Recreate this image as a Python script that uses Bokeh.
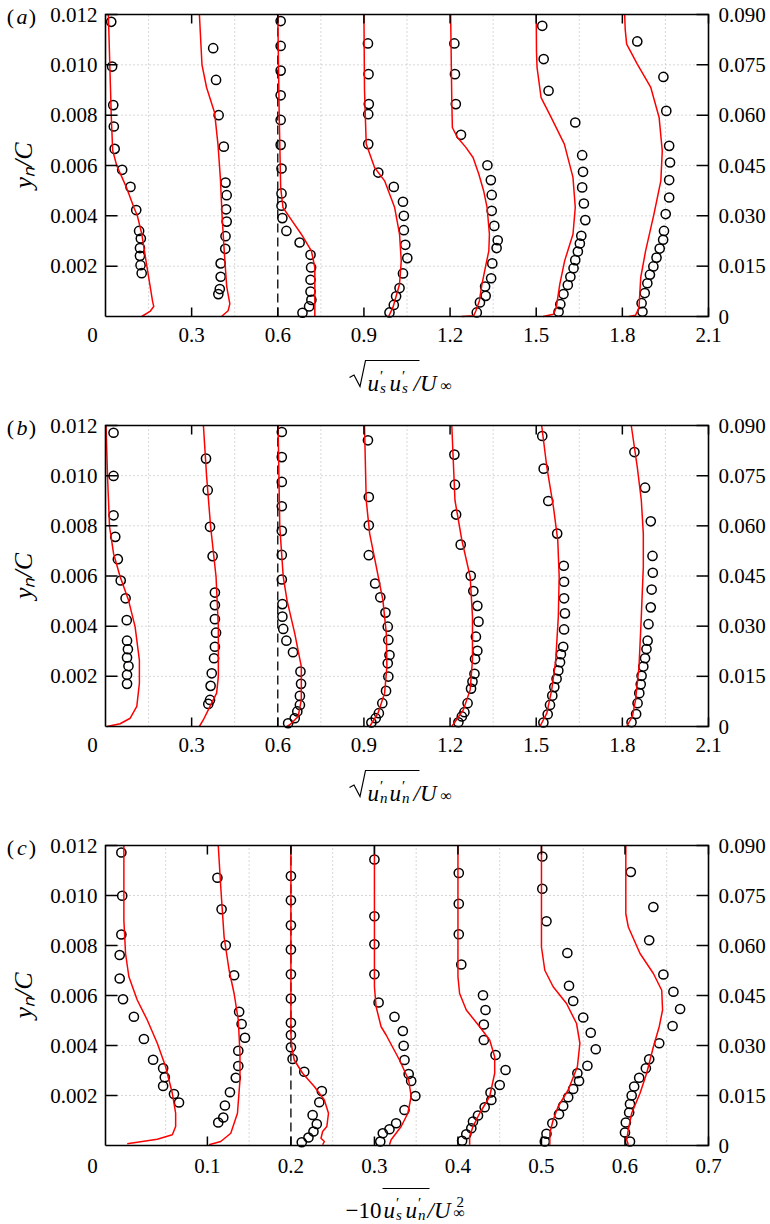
from math import pi
from bokeh.plotting import figure
from bokeh.models import Range1d
from bokeh.core.properties import value
from bokeh.layouts import column
from bokeh.embed import file_html
from bokeh.resources import INLINE

FONT = "Liberation Serif"

# ---------------- panel (a): sqrt(u's u's)/U_inf ----------------
a_offsets = [0.0, 0.3, 0.6, 0.9, 1.2, 1.5, 1.8]
a_exp_x = [
    [0.020, 0.023, 0.027, 0.029, 0.032, 0.058, 0.087, 0.107, 0.117, 0.123, 0.120, 0.120, 0.122, 0.126],
    [0.375, 0.385, 0.394, 0.412, 0.418, 0.422, 0.420, 0.422, 0.418, 0.417, 0.401, 0.401, 0.398, 0.393],
    [0.610, 0.610, 0.610, 0.610, 0.610, 0.610, 0.613, 0.613, 0.613, 0.616, 0.630, 0.676, 0.714, 0.716, 0.714, 0.714, 0.717, 0.709, 0.686],
    [0.914, 0.916, 0.917, 0.915, 0.915, 0.950, 1.004, 1.036, 1.039, 1.039, 1.044, 1.051, 1.036, 1.024, 1.012, 1.004, 0.989],
    [1.215, 1.217, 1.220, 1.238, 1.330, 1.342, 1.345, 1.345, 1.354, 1.366, 1.362, 1.347, 1.343, 1.322, 1.324, 1.304, 1.293],
    [1.521, 1.526, 1.543, 1.636, 1.660, 1.663, 1.660, 1.666, 1.671, 1.657, 1.652, 1.645, 1.636, 1.630, 1.619, 1.610, 1.595, 1.584, 1.578],
    [1.852, 1.943, 1.953, 1.963, 1.966, 1.963, 1.963, 1.951, 1.945, 1.942, 1.930, 1.919, 1.908, 1.896, 1.887, 1.878, 1.867, 1.870],
]
a_exp_y = [
    [0.01171, 0.00993, 0.00840, 0.00755, 0.00666, 0.00583, 0.00515, 0.00423, 0.00340, 0.00310, 0.00272, 0.00241, 0.00204, 0.00172],
    [0.01066, 0.00940, 0.00800, 0.00675, 0.00532, 0.00482, 0.00426, 0.00377, 0.00319, 0.00269, 0.00211, 0.00158, 0.00109, 0.00089],
    [0.01174, 0.01075, 0.00977, 0.00879, 0.00781, 0.00682, 0.00588, 0.00489, 0.00440, 0.00391, 0.00340, 0.00294, 0.00245, 0.00195, 0.00146, 0.00099, 0.00066, 0.00040, 0.00015],
    [0.01085, 0.00963, 0.00844, 0.00804, 0.00685, 0.00572, 0.00515, 0.00456, 0.00400, 0.00343, 0.00285, 0.00232, 0.00171, 0.00113, 0.00080, 0.00046, 0.00016],
    [0.01085, 0.00963, 0.00844, 0.00722, 0.00601, 0.00542, 0.00483, 0.00420, 0.00360, 0.00303, 0.00272, 0.00211, 0.00152, 0.00119, 0.00082, 0.00056, 0.00016],
    [0.01155, 0.01023, 0.00897, 0.00771, 0.00641, 0.00575, 0.00513, 0.00449, 0.00383, 0.00321, 0.00290, 0.00258, 0.00224, 0.00192, 0.00158, 0.00125, 0.00089, 0.00049, 0.00019],
    [0.01093, 0.00952, 0.00817, 0.00678, 0.00612, 0.00542, 0.00473, 0.00407, 0.00340, 0.00305, 0.00270, 0.00234, 0.00199, 0.00166, 0.00132, 0.00093, 0.00053, 0.00019],
]
a_mod_x = [
    [0.010, 0.015, 0.020, 0.025, 0.039, 0.074, 0.100, 0.111, 0.126, 0.144, 0.164, 0.168, 0.155, 0.126],
    [0.327, 0.336, 0.352, 0.380, 0.392, 0.400, 0.406, 0.414, 0.422, 0.433, 0.427, 0.404],
    [0.600, 0.605, 0.610, 0.618, 0.642, 0.682, 0.717, 0.729, 0.729, 0.729],
    [0.900, 0.902, 0.908, 0.937, 0.972, 1.007, 1.024, 1.030, 1.024, 1.001, 0.986],
    [1.202, 1.206, 1.208, 1.226, 1.255, 1.280, 1.300, 1.317, 1.329, 1.337, 1.335, 1.323, 1.311, 1.302, 1.290, 1.282, 1.241],
    [1.500, 1.501, 1.503, 1.517, 1.552, 1.598, 1.628, 1.636, 1.628, 1.599, 1.582, 1.570, 1.560, 1.524],
    [1.808, 1.810, 1.815, 1.852, 1.899, 1.928, 1.939, 1.934, 1.910, 1.881, 1.864, 1.858, 1.846, 1.823],
]
a_mod_y = [
    [0.012, 0.010, 0.008, 0.0066, 0.006, 0.0051, 0.0043, 0.004, 0.0033, 0.002, 0.0006, 0.0004, 0.0002, 0.0],
    [0.012, 0.010, 0.0091, 0.0081, 0.0068, 0.0055, 0.004, 0.0025, 0.0012, 0.0005, 0.00023, 0.0],
    [0.012, 0.008, 0.00513, 0.00433, 0.00393, 0.00327, 0.00261, 0.00195, 0.00062, 0.0],
    [0.012, 0.009, 0.00685, 0.00592, 0.00539, 0.00433, 0.00327, 0.00221, 0.00128, 0.00036, 0.0],
    [0.012, 0.00857, 0.00751, 0.00711, 0.00672, 0.00632, 0.00566, 0.00499, 0.00433, 0.00327, 0.00261, 0.00195, 0.00128, 0.00062, 0.00023, 0.00003, 0.0],
    [0.012, 0.0105, 0.00989, 0.0087, 0.00791, 0.00685, 0.00553, 0.00433, 0.00327, 0.00221, 0.00128, 0.00036, 0.00009, 0.0],
    [0.012, 0.0114, 0.01082, 0.01003, 0.0091, 0.00791, 0.00658, 0.00539, 0.00407, 0.00261, 0.00155, 0.00036, 0.00005, 0.0],
]

# ---------------- panel (b): sqrt(u'n u'n)/U_inf ----------------
b_offsets = [0.0, 0.3, 0.6, 0.9, 1.2, 1.5, 1.8]
b_exp_x = [
    [0.028, 0.028, 0.028, 0.034, 0.043, 0.053, 0.070, 0.074, 0.075, 0.078, 0.075, 0.080, 0.075, 0.075],
    [0.350, 0.356, 0.364, 0.373, 0.381, 0.381, 0.381, 0.385, 0.381, 0.378, 0.370, 0.366, 0.364, 0.358],
    [0.614, 0.614, 0.614, 0.614, 0.614, 0.614, 0.614, 0.616, 0.616, 0.619, 0.630, 0.653, 0.679, 0.681, 0.677, 0.677, 0.668, 0.659, 0.636],
    [0.914, 0.917, 0.917, 0.917, 0.939, 0.957, 0.975, 0.983, 0.985, 0.989, 0.983, 0.985, 0.977, 0.964, 0.952, 0.941, 0.926],
    [1.215, 1.217, 1.221, 1.237, 1.272, 1.281, 1.295, 1.299, 1.290, 1.295, 1.287, 1.285, 1.278, 1.273, 1.261, 1.250, 1.241, 1.229],
    [1.521, 1.526, 1.542, 1.573, 1.596, 1.597, 1.597, 1.600, 1.597, 1.594, 1.586, 1.583, 1.577, 1.571, 1.563, 1.556, 1.548, 1.540, 1.525],
    [1.842, 1.879, 1.899, 1.905, 1.906, 1.902, 1.899, 1.891, 1.888, 1.884, 1.879, 1.873, 1.867, 1.864, 1.859, 1.853, 1.848, 1.832],
]
b_exp_y = [
    [0.01171, 0.00999, 0.00842, 0.00756, 0.00667, 0.00582, 0.00511, 0.00424, 0.00342, 0.00308, 0.00275, 0.00241, 0.00206, 0.00170],
    [0.01068, 0.00942, 0.00796, 0.00679, 0.00534, 0.00484, 0.00428, 0.00374, 0.00318, 0.00272, 0.00212, 0.00162, 0.00106, 0.00090],
    [0.01174, 0.01074, 0.00975, 0.00878, 0.00780, 0.00684, 0.00586, 0.00488, 0.00438, 0.00389, 0.00342, 0.00296, 0.00219, 0.00170, 0.00122, 0.00086, 0.00060, 0.00033, 0.00013],
    [0.01141, 0.00915, 0.00802, 0.00683, 0.00570, 0.00515, 0.00454, 0.00398, 0.00345, 0.00285, 0.00252, 0.00199, 0.00142, 0.00093, 0.00053, 0.00033, 0.00016],
    [0.01084, 0.00964, 0.00845, 0.00725, 0.00601, 0.00540, 0.00481, 0.00418, 0.00358, 0.00302, 0.00269, 0.00210, 0.00179, 0.00151, 0.00093, 0.00057, 0.00040, 0.00017],
    [0.01158, 0.01028, 0.00899, 0.00769, 0.00641, 0.00577, 0.00511, 0.00451, 0.00387, 0.00318, 0.00288, 0.00256, 0.00223, 0.00190, 0.00157, 0.00123, 0.00086, 0.00049, 0.00016],
    [0.01094, 0.00952, 0.00818, 0.00680, 0.00613, 0.00546, 0.00475, 0.00408, 0.00342, 0.00309, 0.00272, 0.00239, 0.00202, 0.00168, 0.00133, 0.00093, 0.00050, 0.00017],
]
b_mod_x = [
    [0.002, 0.007, 0.014, 0.028, 0.051, 0.080, 0.103, 0.118, 0.118, 0.109, 0.086, 0.051, 0.005],
    [0.341, 0.352, 0.366, 0.385, 0.393, 0.393, 0.387, 0.364, 0.341, 0.327],
    [0.601, 0.607, 0.619, 0.632, 0.659, 0.682, 0.682, 0.671, 0.642, 0.632],
    [0.902, 0.908, 0.920, 0.943, 0.966, 0.978, 0.980, 0.972, 0.949, 0.920],
    [1.206, 1.217, 1.241, 1.270, 1.278, 1.278, 1.270, 1.246, 1.206],
    [1.519, 1.537, 1.560, 1.575, 1.580, 1.577, 1.568, 1.554, 1.537, 1.513],
    [1.831, 1.852, 1.866, 1.873, 1.873, 1.866, 1.858, 1.846, 1.835, 1.815],
]
b_mod_y = [
    [0.012, 0.00999, 0.00798, 0.0069, 0.00597, 0.00504, 0.00398, 0.00265, 0.00172, 0.0008, 0.00033, 0.00011, 0.0],
    [0.012, 0.00999, 0.00798, 0.00597, 0.00398, 0.00199, 0.00133, 0.0008, 0.00027, 0.0],
    [0.012, 0.00796, 0.00597, 0.00504, 0.00371, 0.00239, 0.00106, 0.0004, 0.00007, 0.0],
    [0.012, 0.00902, 0.00769, 0.00637, 0.00504, 0.00371, 0.00239, 0.00133, 0.00053, 0.0],
    [0.012, 0.00902, 0.00743, 0.00597, 0.00438, 0.00265, 0.00146, 0.00066, 0.0],
    [0.012, 0.01034, 0.00875, 0.00743, 0.00597, 0.00438, 0.00265, 0.00146, 0.00053, 0.0],
    [0.012, 0.01034, 0.00902, 0.00769, 0.00637, 0.00438, 0.00239, 0.00106, 0.0004, 0.0],
]

# ---------------- panel (c): -10 u's u'n / U_inf^2 ----------------
c_offsets = [0.0, 0.1, 0.2, 0.3, 0.4, 0.5, 0.6]
c_exp_x = [
    [-0.003, -0.002, -0.003, -0.005, -0.005, -0.001, 0.012, 0.024, 0.035, 0.047, 0.049, 0.047, 0.060, 0.066],
    [0.112, 0.117, 0.122, 0.132, 0.138, 0.141, 0.145, 0.137, 0.137, 0.134, 0.127, 0.121, 0.119, 0.113],
    [0.200, 0.200, 0.200, 0.200, 0.200, 0.200, 0.200, 0.200, 0.200, 0.202, 0.216, 0.237, 0.234, 0.226, 0.231, 0.227, 0.221, 0.213],
    [0.300, 0.300, 0.300, 0.300, 0.305, 0.324, 0.334, 0.335, 0.336, 0.341, 0.344, 0.349, 0.336, 0.326, 0.318, 0.310, 0.307],
    [0.401, 0.401, 0.401, 0.404, 0.430, 0.433, 0.431, 0.431, 0.445, 0.457, 0.450, 0.439, 0.440, 0.432, 0.424, 0.418, 0.416, 0.410, 0.405],
    [0.501, 0.501, 0.506, 0.531, 0.533, 0.538, 0.550, 0.559, 0.565, 0.555, 0.543, 0.545, 0.538, 0.532, 0.526, 0.521, 0.513, 0.506, 0.504],
    [0.607, 0.634, 0.629, 0.646, 0.658, 0.666, 0.657, 0.641, 0.629, 0.625, 0.617, 0.611, 0.608, 0.606, 0.605, 0.601, 0.600, 0.606],
]
c_exp_y = [
    [0.01172, 0.00999, 0.00844, 0.00762, 0.00668, 0.00585, 0.00515, 0.00426, 0.00343, 0.00309, 0.00273, 0.00238, 0.00206, 0.00172],
    [0.01071, 0.00945, 0.00801, 0.00681, 0.00535, 0.00486, 0.00431, 0.00379, 0.00318, 0.00271, 0.00213, 0.00160, 0.00112, 0.00092],
    [0.01078, 0.00981, 0.00881, 0.00784, 0.00685, 0.00588, 0.00491, 0.00442, 0.00393, 0.00346, 0.00295, 0.00218, 0.00173, 0.00122, 0.00086, 0.00056, 0.00032, 0.00013],
    [0.01144, 0.00917, 0.00805, 0.00685, 0.00572, 0.00515, 0.00458, 0.00399, 0.00342, 0.00286, 0.00258, 0.00198, 0.00142, 0.00089, 0.00065, 0.00049, 0.00016],
    [0.01090, 0.00967, 0.00845, 0.00724, 0.00601, 0.00542, 0.00484, 0.00422, 0.00362, 0.00302, 0.00242, 0.00212, 0.00182, 0.00153, 0.00120, 0.00096, 0.00069, 0.00045, 0.00019],
    [0.01156, 0.01027, 0.00897, 0.00770, 0.00639, 0.00578, 0.00512, 0.00451, 0.00385, 0.00319, 0.00289, 0.00258, 0.00226, 0.00193, 0.00158, 0.00125, 0.00089, 0.00047, 0.00016],
    [0.01094, 0.00954, 0.00821, 0.00684, 0.00615, 0.00546, 0.00478, 0.00409, 0.00345, 0.00309, 0.00271, 0.00236, 0.00200, 0.00166, 0.00132, 0.00092, 0.00052, 0.00016],
]
c_mod_x = [
    [0.000, 0.000, 0.002, 0.006, 0.016, 0.028, 0.040, 0.050, 0.058, 0.062, 0.062, 0.058, 0.040, 0.004],
    [0.113, 0.116, 0.120, 0.126, 0.132, 0.137, 0.139, 0.139, 0.136, 0.128, 0.116, 0.102],
    [0.200, 0.200, 0.201, 0.204, 0.214, 0.228, 0.240, 0.245, 0.243, 0.238, 0.236, 0.240, 0.238],
    [0.300, 0.300, 0.302, 0.308, 0.314, 0.330, 0.341, 0.344, 0.340, 0.332, 0.320, 0.318],
    [0.400, 0.400, 0.402, 0.410, 0.426, 0.438, 0.444, 0.444, 0.438, 0.426, 0.418, 0.414, 0.414],
    [0.500, 0.500, 0.504, 0.514, 0.530, 0.542, 0.546, 0.543, 0.532, 0.520, 0.514, 0.510, 0.510],
    [0.601, 0.601, 0.604, 0.618, 0.634, 0.644, 0.645, 0.641, 0.634, 0.626, 0.618, 0.608, 0.604, 0.602, 0.604],
]
c_mod_y = [
    [0.012, 0.00901, 0.00768, 0.00675, 0.00582, 0.00502, 0.00409, 0.00315, 0.00209, 0.00129, 0.00076, 0.00043, 0.00025, 0.00007],
    [0.012, 0.01034, 0.00834, 0.00701, 0.00608, 0.00502, 0.00369, 0.00262, 0.00129, 0.00049, 0.00016, 0.00003],
    [0.012, 0.00448, 0.00395, 0.00342, 0.00289, 0.00236, 0.00182, 0.00129, 0.00076, 0.00056, 0.00029, 0.00016, 0.00003],
    [0.012, 0.00635, 0.00555, 0.00475, 0.00442, 0.00342, 0.00262, 0.00196, 0.00129, 0.00076, 0.00023, 0.00003],
    [0.012, 0.00675, 0.00608, 0.00542, 0.00475, 0.00422, 0.00355, 0.00289, 0.00196, 0.00129, 0.00076, 0.00036, 0.00003],
    [0.012, 0.00794, 0.00701, 0.00635, 0.00568, 0.00488, 0.00409, 0.00315, 0.00222, 0.00156, 0.00102, 0.00049, 0.00003],
    [0.012, 0.00927, 0.00874, 0.00768, 0.00688, 0.00621, 0.00542, 0.00475, 0.00395, 0.00289, 0.00209, 0.00129, 0.00063, 0.00023, 0.00003],
]

y_range = (0.0, 0.012)
y_ticks = [0.002, 0.004, 0.006, 0.008, 0.010, 0.012]
r_scale = 7.5
r_ticks = [0.0, 0.015, 0.030, 0.045, 0.060, 0.075, 0.090]
ab_x_range = (0.0, 2.1)
ab_x_ticks = [0.3, 0.6, 0.9, 1.2, 1.5, 1.8, 2.1]
ab_x_grid = [0.15, 0.45, 0.75, 1.05, 1.35, 1.65, 1.95]
c_x_range = (-0.022, 0.7)
c_x_ticks = [0.1, 0.2, 0.3, 0.4, 0.5, 0.6, 0.7]
c_x_grid = [0.05, 0.15, 0.25, 0.35, 0.45, 0.55, 0.65]

W = 770
FL, FR = 105, 708          # frame left/right in px
F = value(FONT)
GRID = "#b0b0b0"


def panel(tag, xr, xticks, xgrid, offsets, ex, ey, mx, my, H, T, B, tick_dy, xlab):
    sx = (xr[1] - xr[0]) / (FR - FL)
    sy = (y_range[1] - y_range[0]) / (B - T)

    def X(px):
        return xr[0] + (px - FL) * sx

    def Y(py):
        return y_range[0] + (B - py) * sy

    p = figure(width=W, height=H, x_range=Range1d(X(0), X(W)), y_range=Range1d(Y(H), Y(0)),
               x_axis_type=None, y_axis_type=None, min_border=0, toolbar_location=None,
               output_backend="svg", outline_line_color=None)
    p.background_fill_color = "white"
    p.border_fill_color = "white"
    y0, y1 = y_range

    def txt(px, py, s, size, align="left", style="normal", baseline="alphabetic", angle=0.0):
        p.text(x=[X(px)], y=[Y(py)], text=[s], text_font=F, text_font_size=size, text_align=align,
               text_baseline=baseline, text_font_style=style, angle=angle, text_color="black")

    # dotted grid
    p.segment(x0=xgrid, y0=[y0] * len(xgrid), x1=xgrid, y1=[y1] * len(xgrid),
              line_color=GRID, line_dash="1 3", line_width=1)
    yg = y_ticks[:-1]
    p.segment(x0=[xr[0]] * len(yg), y0=yg, x1=[xr[1]] * len(yg), y1=yg,
              line_color=GRID, line_dash="1 3", line_width=1)

    # dashed reference line at the third profile
    p.segment(x0=[offsets[2]], y0=[y0], x1=[offsets[2]], y1=[y1], line_color="black",
              line_dash="9 5", line_width=1.3)

    for xs, ys in zip(ex, ey):
        p.scatter(xs, ys, marker="circle", size=9.2, fill_color=None, line_color="black", line_width=1.5)
    for xs, ys in zip(mx, my):
        p.line(xs, ys, line_color="#ff0000", line_width=1.5, line_join="round")

    # frame
    p.line([xr[0], xr[1], xr[1], xr[0], xr[0]], [y0, y0, y1, y1, y0], line_color="black",
           line_width=1.6, line_join="miter")

    # ticks (inward)
    n = len(xticks)
    p.segment(x0=xticks, y0=[y0] * n, x1=xticks, y1=[y0 + 9 * sy] * n, line_color="black", line_width=1.5)
    p.segment(x0=xticks, y0=[y1] * n, x1=xticks, y1=[y1 - 9 * sy] * n, line_color="black", line_width=1.5)
    m = len(y_ticks)
    p.segment(x0=[xr[0]] * m, y0=y_ticks, x1=[xr[0] + 12 * sx] * m, y1=y_ticks, line_color="black", line_width=1.5)
    ry = [r / r_scale for r in r_ticks]
    k = len(ry)
    p.segment(x0=[xr[1]] * k, y0=ry, x1=[xr[1] - 12 * sx] * k, y1=ry, line_color="black", line_width=1.5)

    # tick labels
    p.text(x=xticks, y=[Y(B + tick_dy)] * n, text=["%.1f" % t for t in xticks], text_font=F,
           text_font_size="21px", text_align="center", text_baseline="middle", text_color="black")
    txt(92, B + tick_dy, "0", "21px", align="center", baseline="middle")
    p.text(x=[X(97)] * m, y=y_ticks, text=["%.3f" % t for t in y_ticks], text_font=F,
           text_font_size="21px", text_align="right", text_baseline="middle", text_color="black")
    p.text(x=[X(718)] * k, y=ry, text=["0" if r == 0 else "%.3f" % r for r in r_ticks], text_font=F,
           text_font_size="21px", text_align="left", text_baseline="middle", text_color="black")

    # y label
    txt(23, (T + B) / 2, "y\u2099/C", "26px", align="center", style="italic", baseline="middle", angle=pi / 2)

    # panel tag (a)
    txt(10, T + 2, "(", "22px", align="center", baseline="middle")
    txt(21.5, T + 2, tag, "22px", align="center", style="italic", baseline="middle")
    txt(32, T + 2, ")", "22px", align="center", baseline="middle")

    # x-axis label, built from pieces
    def factor(x0, sub, base):
        txt(x0, base, "u", "23px", style="italic")
        txt(x0 + 12.5, base - 8, "\u2032", "15px")
        txt(x0 + 12.5, base + 4, sub, "15px", style="italic")

    kind, s1, s2 = xlab
    if kind == "sqrt":
        base = B + 67
        p.line([X(349), X(353.5), X(359.5), X(365), X(419)],
               [Y(base - 6), Y(base - 8.5), Y(base + 3), Y(base - 23), Y(base - 23)],
               line_color="black", line_width=1.2, line_join="miter")
        factor(367, s1, base)
        factor(389, s2, base)
        txt(413, base, "/U", "23px", style="italic")
        txt(440, base + 2, "\u221e", "16px")
    else:
        base = B + 65
        txt(381, base, "\u221210", "23px", align="right")
        p.line([X(382), X(429)], [Y(base - 22), Y(base - 22)], line_color="black", line_width=1.2)
        factor(383, s1, base)
        factor(405, s2, base)
        txt(427, base, "/U", "23px", style="italic")
        txt(456, base - 9, "2", "15px")
        txt(453, base + 2, "\u221e", "16px")
    return p


pa = panel("a", ab_x_range, ab_x_ticks, ab_x_grid, a_offsets, a_exp_x, a_exp_y, a_mod_x, a_mod_y,
           396, 14, 316, 18, ("sqrt", "s", "s"))
pb = panel("b", ab_x_range, ab_x_ticks, ab_x_grid, b_offsets, b_exp_x, b_exp_y, b_mod_x, b_mod_y,
           418, 29, 330, 18, ("sqrt", "n", "n"))
pc = panel("c", c_x_range, c_x_ticks, c_x_grid, c_offsets, c_exp_x, c_exp_y, c_mod_x, c_mod_y,
           408, 31, 331, 20, ("neg", "s", "n"))

layout = column(pa, pb, pc, spacing=0)
open("out.html", "w").write(file_html(layout, INLINE))
